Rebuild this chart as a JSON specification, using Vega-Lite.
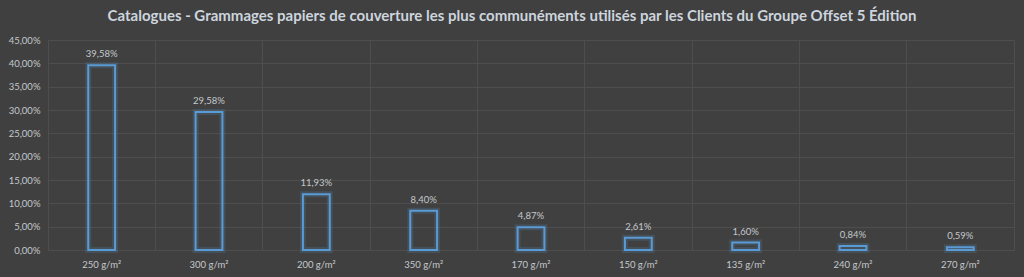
{
  "$schema": "https://vega.github.io/schema/vega-lite/v6.json",
  "width": 966,
  "height": 210,
  "autosize": "none",
  "padding": {"left": 48, "top": 40, "right": 10, "bottom": 27},
  "background": "#404040",
  "config": {
    "locale": {"number": {"decimal": ",", "thousands": " ", "grouping": [3], "currency": ["", " €"]}},
    "font": "Lato",
    "view": {"stroke": "#4e4e4e", "strokeWidth": 1}
  },
  "title": {
    "text": "Catalogues - Grammages papiers de couverture les plus communéments utilisés par les Clients du Groupe Offset 5 Édition",
    "font": "Lato",
    "fontSize": 15,
    "fontWeight": "bold",
    "color": "#cdd5de",
    "anchor": "middle",
    "dx": -19,
    "offset": 11
  },
  "data": {
    "values": [
      {"g": "250 g/m²", "v": 0.3958},
      {"g": "300 g/m²", "v": 0.2958},
      {"g": "200 g/m²", "v": 0.1193},
      {"g": "350 g/m²", "v": 0.0840},
      {"g": "170 g/m²", "v": 0.0487},
      {"g": "150 g/m²", "v": 0.0261},
      {"g": "135 g/m²", "v": 0.0160},
      {"g": "240 g/m²", "v": 0.0084},
      {"g": "270 g/m²", "v": 0.0059}
    ]
  },
  "encoding": {
    "y": {
      "field": "v", "type": "quantitative",
      "scale": {"domain": [0, 0.45], "nice": false},
      "axis": {"values": [0, 0.05, 0.1, 0.15, 0.2, 0.25, 0.3, 0.35, 0.4, 0.45], "format": ".2%", "grid": true, "gridColor": "#4e4e4e", "domain": false, "ticks": false, "labelColor": "#c4c8cc", "labelFontSize": 9.5, "labelPadding": 8, "title": null}
    }
  },
  "layer": [
    {
      "mark": {"type": "bar", "opacity": 0},
      "encoding": {
        "x": {
          "field": "g", "type": "nominal", "sort": null,
          "scale": {"paddingInner": 0, "paddingOuter": 0},
          "axis": {"orient": "top", "grid": true, "gridColor": "#4e4e4e", "gridWidth": 1, "bandPosition": 0, "labels": false, "ticks": false, "domain": false, "title": null}
        }
      }
    },
    {
      "mark": {"type": "bar", "fillOpacity": 0, "stroke": "#5b9bd5", "strokeWidth": 6, "strokeOpacity": 0.18},
      "encoding": {
        "x": {"field": "g", "type": "nominal", "sort": null, "scale": {"paddingInner": 0.75, "paddingOuter": 0.375}, "axis": null}
      }
    },
    {
      "mark": {"type": "bar", "fillOpacity": 0, "stroke": "#5b9bd5", "strokeWidth": 2},
      "encoding": {
        "x": {
          "field": "g", "type": "nominal", "sort": null,
          "scale": {"paddingInner": 0.75, "paddingOuter": 0.375},
          "axis": {"orient": "bottom", "grid": false, "domain": false, "ticks": false, "labelAngle": 0, "labelColor": "#c4c8cc", "labelFontSize": 9.5, "labelPadding": 9, "title": null}
        }
      }
    },
    {
      "mark": {"type": "text", "baseline": "bottom", "dy": -6, "color": "#c4c8cc", "fontSize": 9.5},
      "encoding": {
        "x": {"field": "g", "type": "nominal", "sort": null, "scale": {"paddingInner": 0.75, "paddingOuter": 0.375}, "axis": null},
        "text": {"field": "v", "type": "quantitative", "format": ".2%"}
      }
    }
  ],
  "resolve": {"scale": {"x": "independent"}, "axis": {"x": "independent"}}
}
